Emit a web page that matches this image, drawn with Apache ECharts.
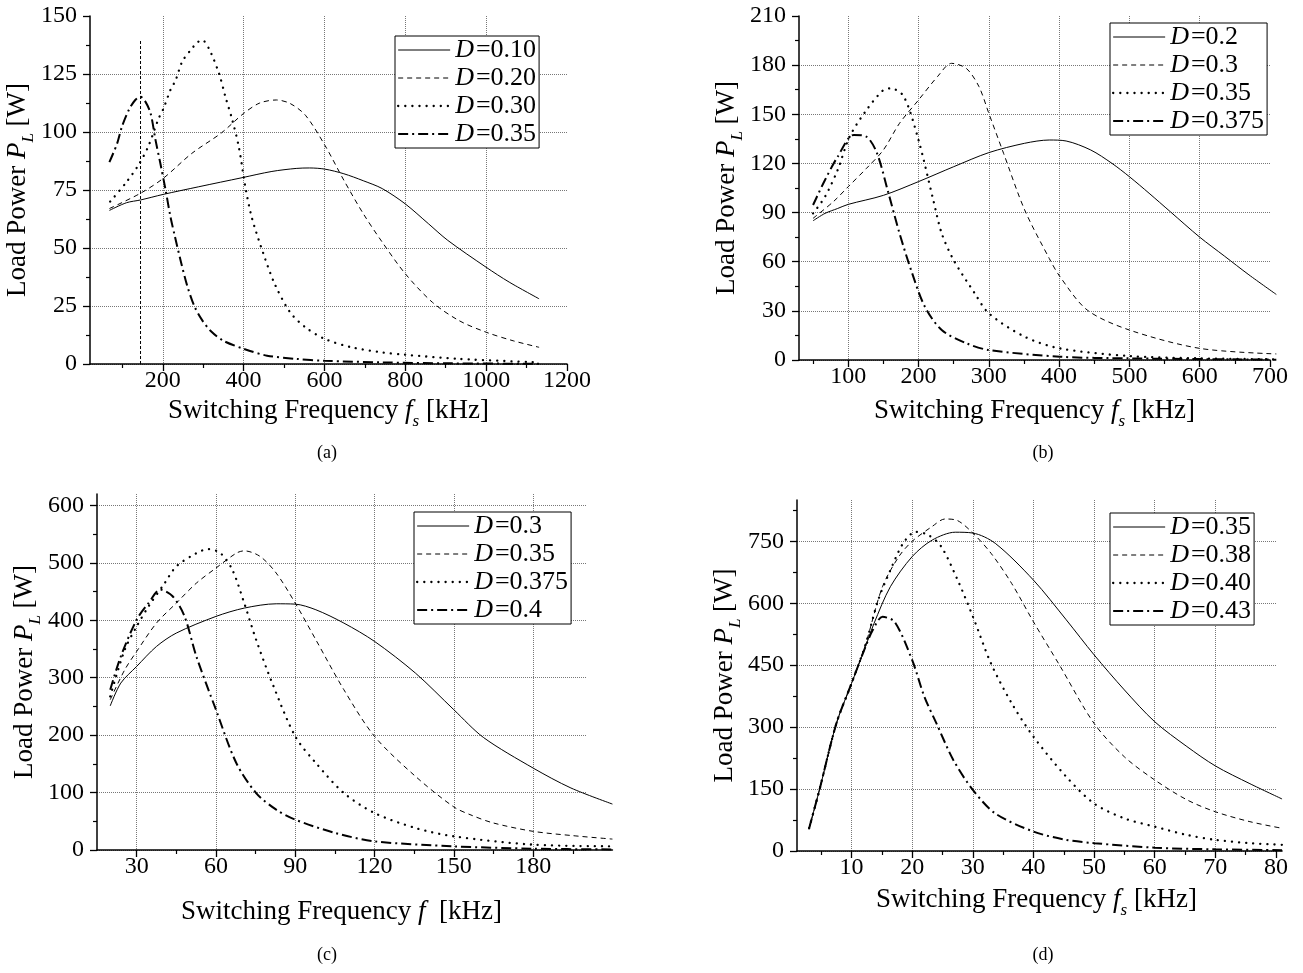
<!DOCTYPE html>
<html><head><meta charset="utf-8">
<script src="https://cdn.jsdelivr.net/npm/echarts@6/dist/echarts.min.js"></script>
<style>html,body{margin:0;padding:0;background:#fff}#c{width:1303px;height:973px}</style>
</head><body><div id="c"></div>
<script>
// ---------- Panel (a) ----------
const A_XTICKS = [200, 400, 600, 800, 1000, 1200];
const A_YTICKS = [0, 25, 50, 75, 100, 125, 150];
const A_F_010 = [68, 110, 145, 201, 289, 396, 470, 530, 563, 601, 648, 696, 743, 800, 857, 905, 1000, 1057, 1131];
const A_P_010 = [66.2, 69.5, 70.7, 73.1, 76.4, 80.3, 83, 84.3, 84.5, 84, 82, 79, 75.6, 69, 60.5, 53.3, 41.7, 35.3, 28.1];
const A_F_020 = [68, 145, 201, 272, 345, 400, 440, 481, 515, 553, 601, 648, 696, 743, 800, 867, 933, 1000, 1067, 1131];
const A_P_020 = [67, 73.6, 80, 90.8, 99.6, 108, 112.5, 113.8, 112.3, 107.2, 94.3, 79.2, 64.8, 52.5, 38.9, 26.6, 18.7, 13.7, 10, 7.2];
const A_F_030 = [70, 108, 140, 164, 190, 202, 219, 232, 248, 269, 285, 297, 314, 339, 355, 372, 388, 405, 420, 449, 477, 515, 553, 601, 667, 743, 800, 933, 1131];
const A_P_030 = [70, 77.9, 85.8, 93.7, 105.9, 110.2, 118.1, 122.4, 130.3, 135.3, 138.5, 139.7, 136, 125.3, 115.2, 105.2, 93.7, 75.7, 63.3, 47.5, 34.5, 22.3, 15.8, 10.8, 7.2, 5, 4, 2.2, 0.7];
const A_F_035 = [68, 87, 99, 116, 132, 145, 157, 170, 182, 194, 207, 219, 230, 245, 260, 278, 297, 320, 350, 401, 458, 530, 601, 743, 900, 1131];
const A_P_035 = [87, 95, 102.3, 109.5, 113.8, 115.2, 113.1, 108, 96.6, 86.5, 75, 63.5, 55, 44, 34, 25, 19, 14, 10, 6.5, 3.6, 2.2, 1.4, 0.7, 0.3, 0.1];
const A_MARK_F = [145, 145];
const A_MARK_P = [0, 140];

// ---------- Panel (b) ----------
const B_XTICKS = [100, 200, 300, 400, 500, 600, 700];
const B_YTICKS = [0, 30, 60, 90, 120, 150, 180, 210];
const B_F_02 = [50, 67, 85, 100, 150, 200, 250, 300, 351, 386, 410, 445, 475, 500, 528, 558, 600, 635, 670, 709];
const B_P_02 = [85, 89.5, 92.5, 95, 100.5, 108.9, 118, 126.6, 132.3, 134.3, 133.7, 128.2, 120.1, 111.9, 101.8, 90.6, 75, 63.5, 52, 40];
const B_F_03 = [50, 79, 100, 126, 150, 173, 200, 227, 247, 268, 286, 300, 321, 351, 386, 401, 440, 500, 600, 709];
const B_P_03 = [86.5, 96.7, 105.8, 117, 128.2, 144.5, 158.7, 173, 181.1, 178, 166.9, 150.6, 126.2, 91.6, 62, 51, 30.5, 18.3, 7.1, 3.7];
const B_F_035 = [50, 67, 85, 102, 126, 150, 161, 179, 200, 221, 233, 250, 280, 300, 351, 401, 500, 600, 709];
const B_P_035 = [89.5, 99.7, 116, 136.3, 152.6, 164.8, 165.8, 160.9, 134.3, 97.7, 77.3, 61, 40.7, 28.5, 14.2, 7.1, 2.4, 1, 0.4];
const B_F_0375 = [50, 67, 85, 108, 126, 141, 156, 173, 191, 209, 233, 268, 300, 401, 500, 709];
const B_P_0375 = [94.6, 109.9, 124.1, 137.4, 136.3, 126.2, 103.8, 77.3, 52.9, 32.6, 18.3, 10.2, 6.1, 2, 1, 0.2];

// ---------- Panel (c) ----------
const C_XTICKS = [30, 60, 90, 120, 150, 180];
const C_YTICKS = [0, 100, 200, 300, 400, 500, 600];
const C_F_03 = [20, 24, 30, 37.5, 45, 60, 70.7, 82.8, 90, 97.8, 108.4, 120, 135.5, 150, 161.2, 180, 194.3, 210];
const C_P_03 = [251, 290.7, 319.7, 354.5, 377.8, 406.8, 421.3, 428.8, 428.2, 418.4, 395.2, 363.3, 308, 244.3, 196, 142.7, 108, 80];
const C_F_035 = [20, 25.5, 30, 37.5, 45, 52.6, 60, 67.7, 70.7, 76.7, 82.8, 90, 97.8, 108.4, 120, 135.5, 150, 157, 165, 180, 195, 210];
const C_P_035 = [261.7, 313.9, 345.8, 395.2, 430, 464.8, 491, 517, 521, 511.3, 482.3, 430, 366.1, 279.1, 197.9, 128.2, 75, 60, 47, 32.5, 25, 19];
const C_F_0375 = [20, 25.5, 30, 34.5, 40.6, 45, 52.6, 57.1, 61.7, 66.2, 70.7, 75.2, 81.3, 90, 97.8, 108.4, 120, 135.5, 150, 180, 210];
const C_P_0375 = [267.5, 348.7, 389.4, 424.2, 464.8, 493.8, 517, 524, 517, 488, 430, 366.1, 290.7, 197.9, 151.5, 99.2, 64.4, 38.3, 23.8, 9.3, 6.4];
const C_F_04 = [20, 24, 30, 34.5, 39, 43.6, 48.1, 52.6, 60, 67.7, 75.2, 82.8, 90, 105.2, 120, 150, 180, 210];
const C_P_04 = [279, 337, 401, 430, 453.5, 442, 407, 337, 244.3, 151.5, 99.2, 70.2, 52.8, 29.6, 15.1, 6.4, 2.3, 1];

// ---------- Panel (d) ----------
const D_XTICKS = [10, 20, 30, 40, 50, 60, 70, 80];
const D_YTICKS = [0, 150, 300, 450, 600, 750];
const D_F_035 = [3, 4.7, 7.5, 10, 12.3, 13.7, 16.4, 20, 23.3, 27.1, 30, 33.7, 40, 45.4, 50, 55, 60, 65.3, 70, 75.7, 81];
const D_P_035 = [55, 148, 309, 406, 495, 551, 640, 713, 753, 772, 770, 745, 656, 560, 475, 390, 313, 253, 206, 163, 126];
const D_F_038 = [3, 4.7, 7.5, 10, 12.3, 15.1, 17.8, 20, 23.3, 25.4, 27.5, 30, 33, 36.4, 40, 44.3, 50, 55, 60, 65.3, 70, 75.7, 81];
const D_P_038 = [55, 148, 309, 406, 500, 640, 713, 750, 786, 804, 800, 770, 721, 648, 555, 450, 309, 228, 172, 124, 95, 71, 55];
const D_F_040 = [3, 4.7, 7.5, 10, 12.3, 14.4, 16.4, 18.5, 20.6, 22.7, 24.8, 27.5, 30, 33, 36.4, 40, 45.4, 50, 55, 60, 65.3, 70, 75.7, 81];
const D_P_040 = [55, 148, 309, 406, 500, 608, 680, 745, 773, 765, 737, 656, 568, 454, 358, 277, 180, 115, 79, 59, 39, 27, 19, 15];
const D_F_043 = [3, 4.7, 7.5, 10, 12.3, 13.5, 15.1, 17.1, 20, 22, 24, 26.8, 30, 33.7, 40, 45.4, 50, 60, 70, 81];
const D_P_043 = [55, 148, 309, 406, 495, 535, 567, 555, 462, 374, 309, 220, 148, 91, 47, 27, 19, 8, 4, 2];

// ---------- styling helpers ----------
const FONT = 'Liberation Serif';
const STY = {
  solid:   {color: '#000', width: 1, type: 'solid'},
  dashed:  {color: '#000', width: 1, type: [5, 4]},
  dotted:  {color: '#000', width: 2.3, type: [0.1, 7], cap: 'round'},
  dashdot: {color: '#000', width: 2, type: [10, 4, 2, 4]},
  marker:  {color: '#000', width: 1, type: [3, 2]}
};
function zip(f, p) { return f.map((v, i) => [v, p[i]]); }
function line(name, f, p, sty, idx) {
  return {type: 'line', name: name, data: zip(f, p), xAxisIndex: idx, yAxisIndex: idx,
    symbol: 'none', showSymbol: false, smooth: 0.3, clip: false, silent: true,
    lineStyle: STY[sty], z: 3};
}
const GRID_LINE = {show: true, lineStyle: {color: '#777', width: 1, type: [1, 1]}};
const fmt = v => String(v);
function xAxis(idx, min, max, ticks, interval, showMax, showLine) {
  return {type: 'value', gridIndex: idx, min: min, max: max, minInterval: interval, maxInterval: interval,
    axisLine: {show: showLine, onZero: false, lineStyle: {color: '#000', width: 1.5}},
    axisTick: {show: true, inside: false, length: 7, customValues: ticks, lineStyle: {color: '#000', width: 1.3}},
    minorTick: {show: true, splitNumber: 2, length: 4, lineStyle: {color: '#000', width: 1.2}},
    axisLabel: {customValues: ticks, margin: 5, color: '#000', fontFamily: FONT, fontSize: 24, formatter: fmt},
    splitLine: Object.assign({showMinLine: true, showMaxLine: showMax}, GRID_LINE)};
}
function yAxis(idx, min, max, ticks, interval, showMax) {
  return {type: 'value', gridIndex: idx, min: min, max: max, minInterval: interval, maxInterval: interval,
    axisLine: {show: true, onZero: false, lineStyle: {color: '#000', width: 1.5}},
    axisTick: {show: true, inside: false, length: 7, customValues: ticks, lineStyle: {color: '#000', width: 1.3}},
    minorTick: {show: true, splitNumber: 2, length: 4, lineStyle: {color: '#000', width: 1.2}},
    axisLabel: {customValues: ticks, margin: 13, color: '#000', fontFamily: FONT, fontSize: 24, formatter: fmt},
    splitLine: Object.assign({showMinLine: true, showMaxLine: showMax}, GRID_LINE)};
}
function hiddenAxes(idx, min, max, ymax, showLine) {
  return [
    {type: 'value', gridIndex: idx, min: min, max: max,
      axisLine: {show: showLine, onZero: false, lineStyle: {color: '#000', width: 1.5}},
      axisTick: {show: false}, axisLabel: {show: false}, splitLine: {show: false}},
    {type: 'value', gridIndex: idx, min: 0, max: ymax, show: false}
  ];
}
const RICH = {
  t: {fontFamily: FONT, fontSize: 27, color: '#000', lineHeight: 38},
  i: {fontFamily: FONT, fontSize: 27, color: '#000', fontStyle: 'italic', lineHeight: 38},
  s: {fontFamily: FONT, fontSize: 17, color: '#000', fontStyle: 'italic', lineHeight: 12, verticalAlign: 'bottom'}
};
const XNAME_S = '{t|Switching Frequency }{i|f}{s|s}{t| [kHz]}';
const XNAME_F = '{t|Switching Frequency }{i|f}{t|  [kHz]}';
const YNAME = '{t|Load Power }{i|P}{s|L}{t| [W]}';
function withNames(xa, ya, xname, xgap, ygap) {
  xa.name = xname; xa.nameLocation = 'middle'; xa.nameGap = xgap; xa.nameTextStyle = {rich: RICH};
  ya.name = YNAME; ya.nameLocation = 'middle'; ya.nameGap = ygap; ya.nameRotate = 90; ya.nameTextStyle = {rich: RICH};
}
function legend(names, left, top) {
  return {data: names, left: left, top: top, orient: 'vertical', selectedMode: false,
    backgroundColor: '#fff', borderColor: '#000', borderWidth: 1, borderRadius: 0,
    padding: [1, 3, 1, 2], itemGap: 2, itemWidth: 52, itemHeight: 15,
    itemStyle: {opacity: 0},
    lineStyle: {width: 'inherit'},
    formatter: n => '{d|D}{n|=' + n.split('|')[1] + '}',
    textStyle: {color: '#000', fontFamily: FONT, fontSize: 26, lineHeight: 26,
      rich: {d: {fontFamily: FONT, fontSize: 26, fontStyle: 'italic', color: '#000', lineHeight: 26, padding: [0, 2, 0, 0]},
             n: {fontFamily: FONT, fontSize: 26, color: '#000', lineHeight: 26}}}};
}

// ---------- axes ----------
const xA = xAxis(0, 20, 1200, A_XTICKS, 200, false, true);
const yA = yAxis(0, 0, 150, A_YTICKS, 25, false);
withNames(xA, yA, XNAME_S, 28, 41);
const xB = xAxis(1, 30, 700, B_XTICKS, 100, false, true);
const yB = yAxis(1, 0, 210, B_YTICKS, 30, false);
withNames(xB, yB, XNAME_S, 32, 38);
const xC = xAxis(2, 15, 200, C_XTICKS, 30, true, false);
const yC = yAxis(2, 0, 620, C_YTICKS, 100, true);
withNames(xC, yC, XNAME_F, 43, 46);
const xD = xAxis(3, 1, 80, D_XTICKS, 10, false, false);
const yD = yAxis(3, 0, 850, D_YTICKS, 150, true);
withNames(xD, yD, XNAME_S, 30, 45);
// extended data areas (curves run slightly past the last grid line)
const [xB2, yB2] = hiddenAxes(4, 30, 710, 210, false);
const [xC2, yC2] = hiddenAxes(5, 15, 210, 620, true);
const [xD2, yD2] = hiddenAxes(6, 1, 81, 850, true);

const option = {
  animation: false,
  backgroundColor: '#fff',
  grid: [
    {left: 90, top: 16, width: 477, height: 348, outerBoundsMode: 'none'},
    {left: 799, top: 16, width: 471, height: 344, outerBoundsMode: 'none'},
    {left: 97, top: 494, width: 489, height: 356, outerBoundsMode: 'none'},
    {left: 797, top: 500, width: 479, height: 351, outerBoundsMode: 'none'},
    {left: 799, top: 16, width: 478.03, height: 344, outerBoundsMode: 'none'},
    {left: 97, top: 494, width: 515.43, height: 356, outerBoundsMode: 'none'},
    {left: 797, top: 500, width: 485.06, height: 351, outerBoundsMode: 'none'}
  ],
  xAxis: [xA, xB, xC, xD, xB2, xC2, xD2],
  yAxis: [yA, yB, yC, yD, yB2, yC2, yD2],
  legend: [
    legend(['a|0.10', 'a|0.20', 'a|0.30', 'a|0.35'], 395, 36),
    legend(['b|0.2', 'b|0.3', 'b|0.35', 'b|0.375'], 1110, 23),
    legend(['c|0.3', 'c|0.35', 'c|0.375', 'c|0.4'], 414, 512),
    legend(['d|0.35', 'd|0.38', 'd|0.40', 'd|0.43'], 1110, 513)
  ],
  graphic: [
    {type: 'text', x: 327, y: 453, style: {text: '(a)', fontFamily: FONT, fontSize: 18, fill: '#000', align: 'center', verticalAlign: 'middle'}},
    {type: 'text', x: 1043, y: 453, style: {text: '(b)', fontFamily: FONT, fontSize: 18, fill: '#000', align: 'center', verticalAlign: 'middle'}},
    {type: 'text', x: 327, y: 955, style: {text: '(c)', fontFamily: FONT, fontSize: 18, fill: '#000', align: 'center', verticalAlign: 'middle'}},
    {type: 'text', x: 1043, y: 955, style: {text: '(d)', fontFamily: FONT, fontSize: 18, fill: '#000', align: 'center', verticalAlign: 'middle'}}
  ],
  series: [
    line('a|0.10', A_F_010, A_P_010, 'solid', 0),
    line('a|0.20', A_F_020, A_P_020, 'dashed', 0),
    line('a|0.30', A_F_030, A_P_030, 'dotted', 0),
    line('a|0.35', A_F_035, A_P_035, 'dashdot', 0),
    Object.assign(line('a-marker', A_MARK_F, A_MARK_P, 'marker', 0), {smooth: false}),
    line('b|0.2', B_F_02, B_P_02, 'solid', 4),
    line('b|0.3', B_F_03, B_P_03, 'dashed', 4),
    line('b|0.35', B_F_035, B_P_035, 'dotted', 4),
    line('b|0.375', B_F_0375, B_P_0375, 'dashdot', 4),
    line('c|0.3', C_F_03, C_P_03, 'solid', 5),
    line('c|0.35', C_F_035, C_P_035, 'dashed', 5),
    line('c|0.375', C_F_0375, C_P_0375, 'dotted', 5),
    line('c|0.4', C_F_04, C_P_04, 'dashdot', 5),
    line('d|0.35', D_F_035, D_P_035, 'solid', 6),
    line('d|0.38', D_F_038, D_P_038, 'dashed', 6),
    line('d|0.40', D_F_040, D_P_040, 'dotted', 6),
    line('d|0.43', D_F_043, D_P_043, 'dashdot', 6)
  ]
};
const chart = echarts.init(document.getElementById('c'), null, {renderer: 'canvas'});
chart.setOption(option);
</script></body></html>
